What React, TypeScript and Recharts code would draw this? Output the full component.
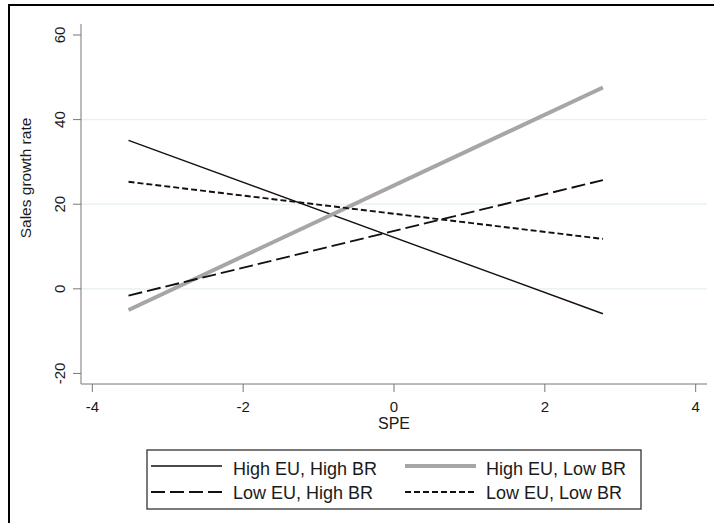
import React from "react";
import { LineChart, Line, XAxis, YAxis, ReferenceLine } from "recharts";

const spe = [-3.52, 2.77];
const highEUHighBR = [35.1, -5.9];
const highEULowBR = [-5.0, 47.6];
const lowEUHighBR = [-1.6, 25.7];
const lowEULowBR = [25.3, 11.8];

const xTicks = [-4, -2, 0, 2, 4];
const yTicks = [-20, 0, 20, 40, 60];
const gridValues = [0, 20, 40];

const seriesNames = ["High EU, High BR", "High EU, Low BR", "Low EU, High BR", "Low EU, Low BR"];

const FONT = "'Liberation Sans', Arial, sans-serif";

const toData = (ys: number[]) => spe.map((x, i) => ({ x, y: ys[i] }));

const seriesStyles = [
  { stroke: "#111", strokeWidth: 1.4, dash: undefined as string | undefined },
  { stroke: "#a6a6a6", strokeWidth: 4, dash: undefined },
  { stroke: "#111", strokeWidth: 1.9, dash: "14 5" },
  { stroke: "#111", strokeWidth: 1.9, dash: "6 3" },
];

const seriesData = [highEUHighBR, highEULowBR, lowEUHighBR, lowEULowBR];

const XTick = (props: any) => {
  const { x, payload } = props;
  return (
    <text x={x} y={411.7} textAnchor="middle" fontFamily={FONT} fontSize={15} fill="#1a1a1a">
      {payload.value}
    </text>
  );
};

const YTick = (props: any) => {
  const { y, payload } = props;
  return (
    <text
      x={65.5}
      y={y}
      transform={`rotate(-90 65.5 ${y})`}
      textAnchor="middle"
      fontFamily={FONT}
      fontSize={15}
      fill="#1a1a1a"
    >
      {payload.value}
    </text>
  );
};

export default function App() {
  const legendCols = [
    { sx: 151, ex: 222, tx: 233 },
    { sx: 405, ex: 476, tx: 486 },
  ];
  const legendRows = [
    { ly: 466, ty: 475 },
    { ly: 492, ty: 499.3 },
  ];
  return (
    <div
      style={{
        position: "fixed",
        left: 0,
        top: 0,
        width: 714,
        height: 523,
        background: "#fff",
        overflow: "hidden",
      }}
    >
      <div
        style={{
          position: "absolute",
          left: 8,
          top: 4,
          width: 800,
          height: 600,
          borderLeft: "2px solid #000",
          borderTop: "2px solid #000",
        }}
      />
      <div style={{ position: "absolute", left: 0, top: 0 }}>
        <LineChart width={714} height={523} margin={{ top: 24, right: 7, bottom: 0, left: 0 }}>
          <XAxis
            type="number"
            dataKey="x"
            domain={[-4.15, 4.15]}
            ticks={xTicks}
            allowDataOverflow
            height={139}
            stroke="#777"
            tickSize={8}
            tickLine={{ stroke: "#777" }}
            tick={<XTick />}
            label={(p: any) => (
              <text x={394} y={428.5} textAnchor="middle" fontFamily={FONT} fontSize={16} fill="#1a1a1a">
                SPE
              </text>
            )}
          />
          <YAxis
            type="number"
            domain={[-22.5, 62.6]}
            ticks={yTicks}
            allowDataOverflow
            width={81}
            stroke="#777"
            tickSize={8}
            tickLine={{ stroke: "#777" }}
            tick={<YTick />}
            label={(p: any) => (
              <text
                x={31}
                y={178}
                transform="rotate(-90 31 178)"
                textAnchor="middle"
                fontFamily={FONT}
                fontSize={15.5}
                fill="#1a1a1a"
              >
                Sales growth rate
              </text>
            )}
          />
          {gridValues.map((v) => (
            <ReferenceLine key={v} y={v} stroke="#e6eff1" strokeWidth={1.2} />
          ))}
          {seriesData.map((ys, i) => (
            <Line
              key={seriesNames[i]}
              name={seriesNames[i]}
              data={toData(ys)}
              dataKey="y"
              type="linear"
              stroke={seriesStyles[i].stroke}
              strokeWidth={seriesStyles[i].strokeWidth}
              strokeDasharray={seriesStyles[i].dash}
              dot={false}
              activeDot={false}
              isAnimationActive={false}
            />
          ))}
        </LineChart>
      </div>
      <svg
        width={714}
        height={523}
        style={{ position: "absolute", left: 0, top: 0, pointerEvents: "none" }}
      >
        <rect x={147} y={450} width={494} height={59} fill="none" stroke="#333" strokeWidth={1.3} />
        {seriesNames.map((name, i) => {
          const col = legendCols[i % 2];
          const row = legendRows[Math.floor(i / 2)];
          const s = seriesStyles[i];
          return (
            <g key={name}>
              <line
                x1={col.sx}
                x2={col.ex}
                y1={row.ly}
                y2={row.ly}
                stroke={s.stroke}
                strokeWidth={s.strokeWidth}
                strokeDasharray={s.dash}
              />
              <text x={col.tx} y={row.ty} fontFamily={FONT} fontSize={18} fill="#1a1a1a">
                {name}
              </text>
            </g>
          );
        })}
      </svg>
    </div>
  );
}
